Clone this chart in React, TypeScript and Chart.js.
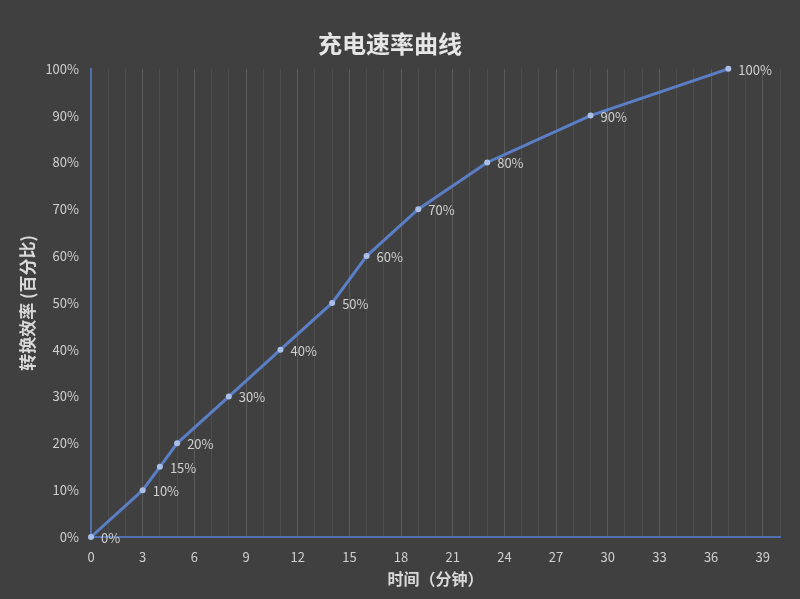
import React, { useEffect, useRef } from "react";
import { Chart, registerables } from "chart.js";

Chart.register(...registerables);

const minutes = [0, 3, 4, 5, 8, 11, 14, 16, 19, 23, 29, 37];
const percents = [0, 10, 15, 20, 30, 40, 50, 60, 70, 80, 90, 100];
const chartTitle = "充电速率曲线";
const xTitle = "时间（分钟）";
const yTitle = "转换效率 (百分比)";

const FONT = "'Noto Sans CJK SC', 'Noto Sans', sans-serif";
const BG = "#404040";
const AXIS = "#5170b0";
const TEXT = "#d0d0d0";

const bgPlugin = {
  id: "bg",
  beforeDraw(chart: any) {
    const { ctx, width, height } = chart;
    ctx.save();
    ctx.fillStyle = BG;
    ctx.fillRect(0, 0, width, height);
    ctx.restore();
  },
};

const labelPlugin = {
  id: "pointLabels",
  afterDatasetsDraw(chart: any) {
    const { ctx } = chart;
    const meta = chart.getDatasetMeta(0);
    ctx.save();
    ctx.font = `13px ${FONT}`;
    ctx.fillStyle = TEXT;
    ctx.textAlign = "left";
    ctx.textBaseline = "middle";
    meta.data.forEach((pt: any, i: number) => {
      ctx.fillText(percents[i] + "%", pt.x + 10, pt.y + 1);
    });
    ctx.restore();
  },
};

export default function App() {
  const ref = useRef<HTMLCanvasElement>(null);
  useEffect(() => {
    const chart = new Chart(ref.current!, {
      type: "line",
      data: {
        datasets: [
          {
            data: minutes.map((m, i) => ({ x: m, y: percents[i] })),
            borderColor: "#5a7fc6",
            borderWidth: 3,
            pointRadius: 3,
            pointBackgroundColor: "#a9bfe8",
            pointBorderWidth: 0,
            tension: 0,
            clip: false,
          },
        ],
      },
      options: {
        animation: false,
        responsive: false,
        layout: { padding: { left: 0, right: 20, top: 0, bottom: 0 } },
        plugins: {
          legend: { display: false },
          tooltip: { enabled: false },
          title: {
            display: true,
            text: chartTitle,
            color: "#e6e6e6",
            font: { family: FONT, size: 24, weight: "bold" },
            padding: { top: 29, bottom: 11 },
          },
        },
        scales: {
          x: {
            type: "linear",
            min: 0,
            max: 40,
            afterFit: (s: any) => {
              s.height = 62;
            },
            ticks: {
              stepSize: 1,
              autoSkip: false,
              maxRotation: 0,
              color: TEXT,
              font: { family: FONT, size: 13 },
              padding: 12,
              callback: (v: any) => (Number(v) % 3 === 0 && Number(v) < 40 ? String(v) : ""),
            },
            grid: {
              drawTicks: false,
              lineWidth: 1,
              color: (c: any) => {
                const v = c.tick ? c.tick.value : 0;
                if (v === 0) return "rgba(0,0,0,0)";
                return v % 3 === 0 ? "#5a5a5a" : "#4d4d4d";
              },
            },
            border: { display: true, color: AXIS, width: 2 },
            title: {
              display: true,
              text: xTitle,
              color: "#d9d9d9",
              font: { family: FONT, size: 16, weight: "bold" },
              padding: { top: 0, bottom: 10 },
            },
          },
          y: {
            min: 0,
            max: 100,
            afterFit: (s: any) => {
              s.width = 91;
            },
            ticks: {
              stepSize: 10,
              color: TEXT,
              font: { family: FONT, size: 13 },
              padding: 12,
              callback: (v: any) => v + "%",
            },
            grid: { display: false, drawTicks: false },
            border: { display: true, color: AXIS, width: 2 },
            title: {
              display: true,
              text: yTitle,
              color: "#d9d9d9",
              font: { family: FONT, size: 17, weight: "bold" },
              padding: { top: 17, bottom: 0 },
            },
          },
        },
      },
      plugins: [bgPlugin, labelPlugin],
    } as any);
    return () => chart.destroy();
  }, []);
  return (
    <div style={{ position: "fixed", left: 0, top: 0, width: 800, height: 599, background: BG }}>
      <canvas ref={ref} width={800} height={599} style={{ display: "block" }} />
    </div>
  );
}
